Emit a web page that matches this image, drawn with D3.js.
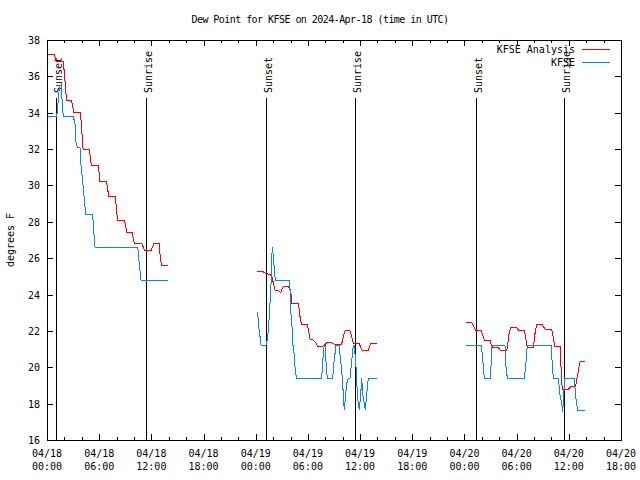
<!DOCTYPE html>
<html>
<head>
<meta charset="utf-8">
<script src="https://cdn.jsdelivr.net/npm/d3@7"></script>
<style>
  html, body { margin: 0; padding: 0; background: #fff; }
  svg { display: block; }
  text { font-family: "DejaVu Sans Mono", "Liberation Mono", monospace; font-size: 10px; fill: #000; }
</style>
</head>
<body>
<svg id="chart" width="640" height="480"></svg>
<script>
// ---- data (hours since 2024-04-18 00:00 UTC; null value = gap) ----
const analysisHours = [0.1,0.85,1.05,1.85,2.0,2.15,2.25,2.8,3.1,3.85,4.15,4.85,5.1,5.9,6.1,6.85,7.1,7.85,8.1,8.9,9.2,9.8,10.05,10.9,11.25,11.95,12.3,12.9,13.05,13.2,13.95,
  19,
  24.18,24.87,25.07,25.64,25.84,25.95,26.10,26.22,26.60,26.87,27.06,27.17,27.74,27.94,28.06,28.14,28.90,29.01,29.09,29.26,29.93,30.13,30.24,30.62,30.90,31.08,31.77,32.16,32.74,33.00,33.88,34.15,34.26,34.84,35.03,35.22,35.91,36.19,36.30,36.94,37.22,37.91,
  43,
  48.18,48.83,49.02,49.29,49.90,50.10,50.28,50.94,51.05,51.20,51.89,52.17,52.86,53.04,53.16,53.35,54.01,54.19,54.88,55.04,55.23,55.92,56.11,56.31,56.95,57.26,58.03,58.22,58.41,58.99,59.10,59.25,59.94,60.14,60.33,60.79,61.02,61.17,61.29,61.86];
const analysisDew = [37.2,37.2,36.8,36.8,36.2,35.2,34.7,34.7,34.0,34.0,32.0,32.0,31.1,31.1,30.2,30.2,29.4,29.4,28.1,28.1,27.4,27.4,26.8,26.8,26.4,26.4,26.8,26.8,25.9,25.6,25.6,
  null,
  25.25,25.25,25.17,25.1,25.0,24.8,24.45,24.25,24.25,24.1,24.35,24.43,24.43,24.3,24.0,23.5,23.5,23.15,22.8,22.35,22.35,21.9,21.55,21.5,21.35,21.17,21.17,21.35,21.35,21.28,21.28,21.83,22.0,22.0,21.72,21.32,21.3,20.95,20.93,20.93,21.32,21.32,
  null,
  22.47,22.47,22.27,22.05,22.05,21.78,21.5,21.5,21.3,21.1,21.1,20.9,20.9,21.5,21.95,22.2,22.2,22.05,22.05,21.6,21.1,21.1,21.85,22.36,22.36,22.09,22.09,21.6,21.13,21.13,20.03,18.79,18.79,18.9,18.97,18.97,19.6,20.03,20.3,20.3];

const stationHours = [0.1,1.12,1.30,1.44,1.61,1.87,3.02,3.22,3.33,3.48,3.79,3.91,4.17,4.37,4.48,5.21,5.32,5.44,5.52,10.43,10.61,10.81,13.95,
  19,
  24.18,24.30,24.41,24.57,24.61,25.18,25.33,25.45,25.56,25.64,25.76,25.84,25.91,25.99,26.07,26.14,26.25,27.86,27.94,28.02,28.09,28.21,28.25,28.34,28.46,28.57,28.71,31.59,31.70,31.85,31.97,32.08,32.23,32.85,33.00,33.23,33.61,33.69,33.88,34.00,34.07,34.18,34.34,34.46,34.64,34.84,35.03,35.22,35.33,35.50,35.61,35.68,35.79,35.91,36.07,36.19,36.30,36.48,36.60,36.76,36.94,37.91,
  43,
  48.18,49.90,50.05,50.17,50.28,50.94,51.05,51.13,52.66,52.78,52.93,54.88,55.04,55.23,57.95,58.10,58.22,58.79,58.99,59.18,59.30,59.45,59.56,60.63,60.79,61.02,61.86];
const stationDew = [33.8,33.8,34.7,35.5,35.5,33.8,33.8,33.4,32.4,32.1,32.1,31.1,29.9,28.8,28.4,28.4,28.0,27.0,26.6,26.6,25.7,24.8,24.8,
  null,
  23.05,22.6,21.9,21.5,21.2,21.2,21.5,22.05,22.8,23.5,24.6,26.0,26.6,26.25,25.9,25.35,24.8,24.8,24.25,23.3,22.6,22.05,21.2,21.2,20.4,19.7,19.4,19.4,20.3,21.13,21.2,20.3,19.4,19.4,20.3,21.2,21.2,20.7,19.85,19.1,18.5,17.65,18.5,19.1,19.4,19.4,20.3,21.2,21.2,20.3,19.4,18.5,18.0,17.65,18.5,19.4,18.5,18.0,17.65,18.5,19.4,19.4,
  null,
  21.22,21.22,20.76,20.03,19.39,19.39,20.03,21.22,21.22,20.03,19.39,19.39,20.03,21.22,21.22,20.2,19.39,19.39,18.48,18.02,17.56,18.75,19.39,19.39,18.4,17.6,17.6];

const eventHours = [1.05, 11.41, 25.18, 35.45, 49.29, 59.5];
const eventLabels = ["Sunset", "Sunrise", "Sunset", "Sunrise", "Sunset", "Sunrise"];

const yTicks = [16,18,20,22,24,26,28,30,32,34,36,38];
const seriesNames = ["KFSE Analysis", "KFSE"];
const seriesColors = ["#ff0000", "#0a84f0"];
const titleText = "Dew Point for KFSE on 2024-Apr-18 (time in UTC)";
const yLabelText = "degrees F";

// ---- layout ----
const L = 47, R = 621, T = 40, B = 440;
const t0 = Date.UTC(2024, 3, 18, 0, 0);
const H = 3600 * 1000;
const toDate = h => new Date(t0 + h * H);

const x = d3.scaleUtc().domain([toDate(0), toDate(66)]).range([L, R]);
const y = d3.scaleLinear().domain([16, 38]).range([B, T]);

const svg = d3.select("#chart");

// axes ticks (inward, mirrored)
const majorTimes = d3.range(0, 67, 6).map(toDate);
const minorTimes = d3.range(0, 67, 2).filter(h => h % 6 !== 0).map(toDate);

function styleAxis(g) {
  g.select(".domain").remove();
  g.selectAll("line").attr("stroke", "#000").attr("shape-rendering", "crispEdges");
}

svg.append("g").attr("transform", `translate(0,${B})`)
  .call(d3.axisBottom(x).tickValues(majorTimes).tickSize(-6).tickFormat(""))
  .call(styleAxis);
svg.append("g").attr("transform", `translate(0,${B})`)
  .call(d3.axisBottom(x).tickValues(minorTimes).tickSize(-3).tickFormat(""))
  .call(styleAxis);
svg.append("g").attr("transform", `translate(0,${T})`)
  .call(d3.axisTop(x).tickValues(majorTimes).tickSize(-6).tickFormat(""))
  .call(styleAxis);
svg.append("g").attr("transform", `translate(0,${T})`)
  .call(d3.axisTop(x).tickValues(minorTimes).tickSize(-3).tickFormat(""))
  .call(styleAxis);

const yAx = svg.append("g").attr("transform", `translate(${L},0)`)
  .call(d3.axisLeft(y).tickValues(yTicks).tickSize(-6).tickPadding(7).tickFormat(d3.format("d")))
  .call(styleAxis);
yAx.attr("font-family", null).attr("font-size", null);
yAx.selectAll("text").attr("dy", "0.35em");
svg.append("g").attr("transform", `translate(${R},0)`)
  .call(d3.axisRight(y).tickValues(yTicks).tickSize(-6).tickFormat(""))
  .call(styleAxis);

// x tick labels (two lines)
const fmtDate = d3.utcFormat("%m/%d"), fmtTime = d3.utcFormat("%H:%M");
const xl = svg.append("g").selectAll("text").data(majorTimes).join("text")
  .attr("x", d => x(d)).attr("y", 457).attr("text-anchor", "middle");
xl.append("tspan").attr("x", d => x(d)).text(fmtDate);
xl.append("tspan").attr("x", d => x(d)).attr("dy", 13).text(fmtTime);

// border
svg.append("rect").attr("x", L + 0.5).attr("y", T + 0.5).attr("width", R - L).attr("height", B - T)
  .attr("fill", "none").attr("stroke", "#000").attr("shape-rendering", "crispEdges");

// event lines
svg.append("g").selectAll("line").data(eventHours).join("line")
  .attr("x1", d => Math.round(x(toDate(d))) + 0.5).attr("x2", d => Math.round(x(toDate(d))) + 0.5)
  .attr("y1", 98).attr("y2", B)
  .attr("stroke", "#000").attr("shape-rendering", "crispEdges");
svg.append("g").selectAll("text").data(eventHours).join("text")
  .attr("transform", d => `translate(${x(toDate(d)) + 6},93) rotate(-90)`)
  .attr("text-anchor", "start")
  .text((d, i) => eventLabels[i]);

// series
const line = d3.line().defined(d => d.v !== null).x(d => x(d.t)).y(d => y(d.v));
const series = [
  analysisHours.map((h, i) => ({ t: toDate(h), v: analysisDew[i] })),
  stationHours.map((h, i) => ({ t: toDate(h), v: stationDew[i] }))
];
svg.append("g").selectAll("path").data(series).join("path")
  .attr("d", line).attr("fill", "none")
  .attr("stroke", (d, i) => seriesColors[i]).attr("stroke-width", 1)
  .attr("shape-rendering", "crispEdges");

// legend
const lg = svg.append("g").selectAll("g").data(seriesNames).join("g")
  .attr("transform", (d, i) => `translate(0,${49 + i * 13})`);
lg.append("text").attr("x", 575).attr("dy", "0.35em").attr("text-anchor", "end").text(d => d);
lg.append("line").attr("x1", 582).attr("x2", 610).attr("y1", 0.5).attr("y2", 0.5)
  .attr("stroke", (d, i) => seriesColors[i]).attr("shape-rendering", "crispEdges");

// title and y label
svg.append("text").attr("x", 320).attr("y", 19).attr("dy", "0.35em").attr("text-anchor", "middle")
  .style("letter-spacing", "-0.55px").text(titleText);
svg.append("text").attr("transform", "translate(14,240) rotate(-90)").attr("text-anchor", "middle").text(yLabelText);
</script>
</body>
</html>
